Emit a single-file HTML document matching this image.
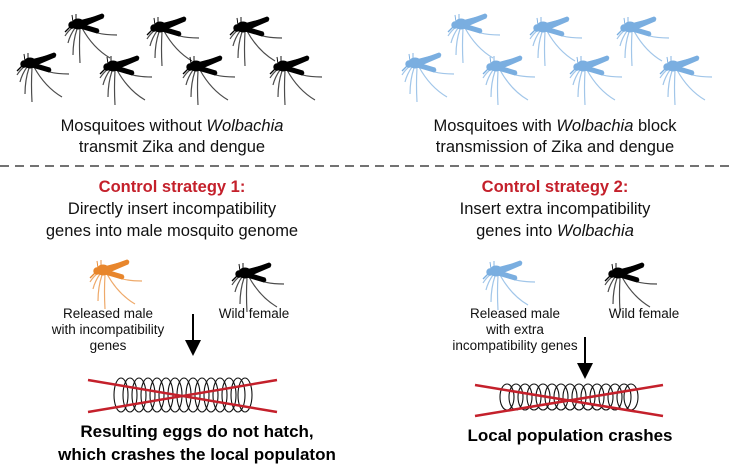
<!DOCTYPE html>
<html><head><meta charset="utf-8"><style>
body{margin:0;background:#fff;}
svg{display:block;font-family:"Liberation Sans",sans-serif;}
.t{font-size:16.5px;fill:#111;text-anchor:middle}
.r{font-size:16.5px;fill:#c4202b;font-weight:bold;text-anchor:middle}
.s{font-size:13.5px;fill:#111;text-anchor:middle}
.b{font-size:17px;fill:#000;font-weight:bold;text-anchor:middle}
</style></head><body>
<svg width="730" height="474" viewBox="0 0 730 474">
<defs>
<g id="m">
  <g fill="none" stroke-width="1.2" opacity="0.7">
    <path d="M8 14 Q3 18 0 23"/>
    <path d="M10 15 Q5 22 3 30"/>
    <path d="M12 16 Q8 28 8 42"/>
    <path d="M15 16 Q14 32 15 50"/>
    <path d="M17 15 Q28 35 45 45"/>
    <path d="M19 13 Q28 22 52 22"/>
  </g>
  <ellipse cx="13" cy="11" rx="6" ry="5"/>
  <path d="M15 9 L37 1 Q40 2 38 5 L17 14 Z"/>
  <path d="M16 11 L33 16 Q35 19 32 20 L15 15 Z"/>
  <path d="M14 8 L29 4 Q31 6 29 7 L16 11 Z"/>
  <circle cx="7" cy="12" r="3.2"/>
  <path d="M6 13 L0 19" stroke-width="1.3" fill="none"/>
  <path d="M8 9 L7 2 M11 8 L11 1" stroke-width="0.9" fill="none"/>
</g>
</defs>
<g fill="#000" stroke="#000">
<use href="#m" x="65" y="13"/><use href="#m" x="147" y="16"/><use href="#m" x="230" y="16"/>
<use href="#m" x="17" y="52"/><use href="#m" x="100" y="55"/><use href="#m" x="183" y="55"/><use href="#m" x="270" y="55"/>
<use href="#m" x="232" y="262"/><use href="#m" x="605" y="262"/>
</g>
<g fill="#7aaee0" stroke="#7aaee0">
<use href="#m" x="448" y="13"/><use href="#m" x="530" y="16"/><use href="#m" x="617" y="16"/>
<use href="#m" x="402" y="52"/><use href="#m" x="483" y="55"/><use href="#m" x="570" y="55"/><use href="#m" x="660" y="55"/>
<use href="#m" x="483" y="260"/>
</g>
<g fill="#e8862c" stroke="#e8862c"><use href="#m" x="90" y="259"/></g>

<text class="t" x="172" y="131">Mosquitoes without <tspan font-style="italic">Wolbachia</tspan></text>
<text class="t" x="172" y="152">transmit Zika and dengue</text>
<text class="t" x="555" y="131">Mosquitoes with <tspan font-style="italic">Wolbachia</tspan> block</text>
<text class="t" x="555" y="152">transmission of Zika and dengue</text>
<line x1="0" y1="166" x2="730" y2="166" stroke="#444" stroke-width="1.5" stroke-dasharray="9,6"/>

<text class="r" x="172" y="192">Control strategy 1:</text>
<text class="t" x="172" y="214">Directly insert incompatibility</text>
<text class="t" x="172" y="236">genes into male mosquito genome</text>
<text class="r" x="555" y="192">Control strategy 2:</text>
<text class="t" x="555" y="214">Insert extra incompatibility</text>
<text class="t" x="555" y="236">genes into <tspan font-style="italic">Wolbachia</tspan></text>

<text class="s" x="108" y="318">Released male</text>
<text class="s" x="108" y="334">with incompatibility</text>
<text class="s" x="108" y="350">genes</text>
<text class="s" x="254" y="318">Wild female</text>
<text class="s" x="515" y="318">Released male</text>
<text class="s" x="515" y="334">with extra</text>
<text class="s" x="515" y="350">incompatibility genes</text>
<text class="s" x="644" y="318">Wild female</text>

<g stroke="#000" stroke-width="2"><line x1="193" y1="314" x2="193" y2="342"/><line x1="585" y1="337" x2="585" y2="365"/></g>
<path d="M185 340 L201 340 L193 356 Z"/>
<path d="M577 363 L593 363 L585 379 Z"/>

<g fill="none" stroke="#111" stroke-width="1.1">
<ellipse cx="121" cy="395" rx="7" ry="17"/><ellipse cx="130" cy="395" rx="7" ry="17"/><ellipse cx="139" cy="395" rx="7" ry="17"/><ellipse cx="148" cy="395" rx="7" ry="17"/><ellipse cx="157" cy="395" rx="7" ry="17"/><ellipse cx="166" cy="395" rx="7" ry="17"/><ellipse cx="175" cy="395" rx="7" ry="17"/><ellipse cx="184" cy="395" rx="7" ry="17"/><ellipse cx="193" cy="395" rx="7" ry="17"/><ellipse cx="202" cy="395" rx="7" ry="17"/><ellipse cx="211" cy="395" rx="7" ry="17"/><ellipse cx="220" cy="395" rx="7" ry="17"/><ellipse cx="229" cy="395" rx="7" ry="17"/><ellipse cx="238" cy="395" rx="7" ry="17"/><ellipse cx="245" cy="395" rx="7" ry="17"/>
<ellipse cx="507" cy="397" rx="7" ry="13"/><ellipse cx="516" cy="397" rx="7" ry="13"/><ellipse cx="525" cy="397" rx="7" ry="13"/><ellipse cx="534" cy="397" rx="7" ry="13"/><ellipse cx="543" cy="397" rx="7" ry="13"/><ellipse cx="552" cy="397" rx="7" ry="13"/><ellipse cx="561" cy="397" rx="7" ry="13"/><ellipse cx="570" cy="397" rx="7" ry="13"/><ellipse cx="579" cy="397" rx="7" ry="13"/><ellipse cx="588" cy="397" rx="7" ry="13"/><ellipse cx="597" cy="397" rx="7" ry="13"/><ellipse cx="606" cy="397" rx="7" ry="13"/><ellipse cx="615" cy="397" rx="7" ry="13"/><ellipse cx="624" cy="397" rx="7" ry="13"/><ellipse cx="631" cy="397" rx="7" ry="13"/>
</g>
<g stroke="#c4202b" stroke-width="2.5">
<line x1="88" y1="380" x2="277" y2="412"/><line x1="88" y1="412" x2="277" y2="380"/>
<line x1="475" y1="385" x2="663" y2="416"/><line x1="475" y1="416" x2="663" y2="385"/>
</g>

<text class="b" x="197" y="437">Resulting eggs do not hatch,</text>
<text class="b" x="197" y="460">which crashes the local populaton</text>
<text class="b" x="570" y="441">Local population crashes</text>
</svg>
</body></html>
